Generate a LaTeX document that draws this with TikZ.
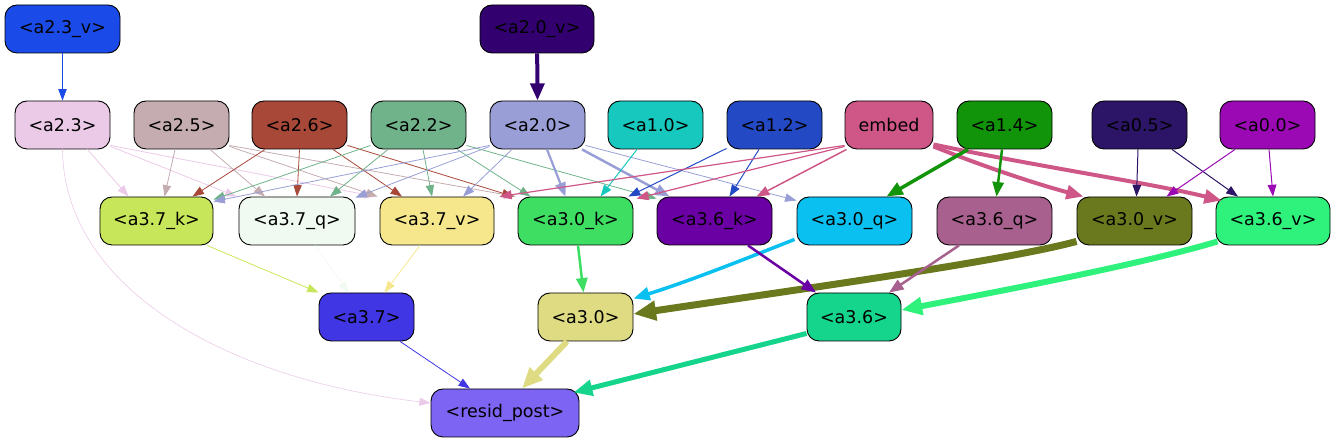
\documentclass[tikz,border=0pt]{standalone}
\usepackage{fontspec}
\setmainfont{DejaVu Sans}
\usetikzlibrary{arrows.meta,calc}
\definecolor{c23v}{HTML}{1A4BE8}
\definecolor{c20v}{HTML}{330070}
\definecolor{c23}{HTML}{EBCAE8}
\definecolor{c25}{HTML}{C4ACB0}
\definecolor{c26}{HTML}{A84838}
\definecolor{c22}{HTML}{70B38A}
\definecolor{c20}{HTML}{999FD6}
\definecolor{c10}{HTML}{17C8BE}
\definecolor{c12}{HTML}{2349C4}
\definecolor{cemb}{HTML}{CF5788}
\definecolor{c14}{HTML}{12940A}
\definecolor{c05}{HTML}{2C1466}
\definecolor{c00}{HTML}{9B09B5}
\definecolor{c37k}{HTML}{C8E65A}
\definecolor{c37q}{HTML}{F0FAF0}
\definecolor{c37v}{HTML}{F6E78D}
\definecolor{c30k}{HTML}{3EDE63}
\definecolor{c36k}{HTML}{6A00A3}
\definecolor{c30q}{HTML}{0AC0F0}
\definecolor{c36q}{HTML}{A8608E}
\definecolor{c30v}{HTML}{6A781E}
\definecolor{c36v}{HTML}{2EF27C}
\definecolor{c37}{HTML}{4136E3}
\definecolor{c30}{HTML}{DEDB82}
\definecolor{c36}{HTML}{15D48B}
\definecolor{cres}{HTML}{7D64F2}
\tikzset{
  box/.style={draw=black, line width=0.9pt, rounded corners=12pt, minimum height=48pt,
    inner sep=0pt, font=\fontsize{17.5}{20}\selectfont, text=black},
  edge/.style={-{Triangle[length=10pt 1.8, width=7pt 1.7]}}
}
\newcommand\edgeln[4]{\draw[edge, draw=#1, line width=#2pt] (#3) -- (#4);}
\begin{document}
\begin{tikzpicture}[x=1pt,y=1pt]
\useasboundingbox (0,0) rectangle (1336,443);
% row 0
\node[box, fill=c23v, minimum width=115pt] (a23v) at (62.5,414) {<a2.3\_v>};
\node[box, fill=c20v, minimum width=114pt] (a20v) at (537,414) {<a2.0\_v>};
% row 1
\node[box, fill=c23, minimum width=95pt] (a23) at (62.5,318) {<a2.3>};
\node[box, fill=c25, minimum width=95pt] (a25) at (181.5,318) {<a2.5>};
\node[box, fill=c26, minimum width=95pt] (a26) at (299.5,318) {<a2.6>};
\node[box, fill=c22, minimum width=95pt] (a22) at (418.5,318) {<a2.2>};
\node[box, fill=c20, minimum width=95pt] (a20) at (537.5,318) {<a2.0>};
\node[box, fill=c10, minimum width=95pt] (a10) at (655.5,318) {<a1.0>};
\node[box, fill=c12, minimum width=95pt] (a12) at (774.5,318) {<a1.2>};
\node[box, fill=cemb, minimum width=88pt] (emb) at (889,318) {embed};
\node[box, fill=c14, minimum width=95pt] (a14) at (1004.5,318) {<a1.4>};
\node[box, fill=c05, minimum width=95pt] (a05) at (1139.5,318) {<a0.5>};
\node[box, fill=c00, minimum width=95pt] (a00) at (1267.5,318) {<a0.0>};
% row 2
\node[box, fill=c37k, minimum width=113pt] (a37k) at (156.5,222) {<a3.7\_k>};
\node[box, fill=c37q, minimum width=116pt] (a37q) at (297,222) {<a3.7\_q>};
\node[box, fill=c37v, minimum width=114pt] (a37v) at (437,222) {<a3.7\_v>};
\node[box, fill=c30k, minimum width=115pt] (a30k) at (575.5,222) {<a3.0\_k>};
\node[box, fill=c36k, minimum width=115pt] (a36k) at (714.5,222) {<a3.6\_k>};
\node[box, fill=c30q, minimum width=115pt] (a30q) at (854.5,222) {<a3.0\_q>};
\node[box, fill=c36q, minimum width=115pt] (a36q) at (994.5,222) {<a3.6\_q>};
\node[box, fill=c30v, minimum width=115pt] (a30v) at (1134.5,222) {<a3.0\_v>};
\node[box, fill=c36v, minimum width=114pt] (a36v) at (1273,222) {<a3.6\_v>};
% row 3
\node[box, fill=c37, minimum width=95pt] (a37) at (366.5,126) {<a3.7>};
\node[box, fill=c30, minimum width=95pt] (a30) at (585.5,126) {<a3.0>};
\node[box, fill=c36, minimum width=94pt] (a36) at (854,126) {<a3.6>};
% row 4
\node[box, fill=cres, minimum width=148pt] (res) at (505,30) {<resid\_post>};

% edges row0 -> row1
\edgeln{c23v}{0.8}{a23v}{a23.north}
\edgeln{c20v}{4}{a20v}{a20.north}
% a2.3
\edgeln{c23}{0.8}{[xshift=25pt]a23.south}{[xshift=-28pt]a37k.north}
\edgeln{c23}{0.8}{[yshift=3pt]a23.south east}{[xshift=-2pt]a37q.north west}
\edgeln{c23}{0.8}{[yshift=4pt]a23.south east}{[xshift=-4pt]a37v.north west}
\draw[edge, draw=c23, line width=0.6pt] (a23.south) .. controls (64,153) and (230,63) .. ([yshift=10pt]res.west);
% a2.5
\edgeln{c25}{0.8}{[xshift=-6.5pt]a25.south}{[xshift=8pt]a37k.north}
\edgeln{c25}{0.8}{[xshift=28.5pt]a25.south}{[xshift=-32pt]a37q.north}
\edgeln{c25}{0.8}{[yshift=3pt]a25.south east}{[xshift=-2pt]a37v.north west}
\edgeln{c25}{0.8}{[yshift=4pt]a25.south east}{[xshift=-2pt]a30k.north west}
% a2.6
\edgeln{c26}{0.8}{[xshift=-34.5pt]a26.south}{[xshift=36pt]a37k.north}
\edgeln{c26}{0.8}{a26.south}{a37q.north}
\edgeln{c26}{0.8}{[xshift=33.5pt]a26.south}{[xshift=-35pt]a37v.north}
\edgeln{c26}{0.8}{[yshift=4pt]a26.south east}{[xshift=-4pt]a30k.north west}
% a2.2
\edgeln{c22}{0.8}{[yshift=4pt]a22.south west}{[yshift=-3pt]a37k.north east}
\edgeln{c22}{0.8}{[xshift=-30.5pt]a22.south}{[xshift=33pt]a37q.north}
\edgeln{c22}{0.8}{[xshift=4.5pt]a22.south}{[xshift=-5pt]a37v.north}
\edgeln{c22}{0.8}{[xshift=38.5pt]a22.south}{[xshift=-45pt]a30k.north}
\edgeln{c22}{0.8}{[yshift=4pt]a22.south east}{[yshift=-2pt]a36k.north west}
% a2.0
\edgeln{c20}{0.8}{[yshift=4pt]a20.south west}{[yshift=-5pt]a37k.north east}
\edgeln{c20}{0.8}{[yshift=3pt]a20.south west}{[yshift=-1pt]a37q.north east}
\edgeln{c20}{0.8}{[xshift=-25.5pt]a20.south}{[xshift=26pt]a37v.north}
\edgeln{c20}{2.2}{[xshift=9.5pt]a20.south}{[xshift=-10pt]a30k.north}
\edgeln{c20}{2.5}{[xshift=44.5pt]a20.south}{[xshift=-45pt]a36k.north}
\edgeln{c20}{0.8}{[yshift=4pt]a20.south east}{[yshift=-4pt]a30q.north west}
% a1.0, a1.2
\edgeln{c10}{1}{[xshift=-18.5pt]a10.south}{[xshift=25pt]a30k.north}
\edgeln{c12}{1}{[yshift=1pt]a12.south west}{[xshift=-5pt]a30k.north east}
\edgeln{c12}{1}{[xshift=-15.5pt]a12.south}{[xshift=15pt]a36k.north}
% embed
\edgeln{cemb}{1.2}{[yshift=4pt]emb.south west}{[xshift=5pt]a37v.north east}
\edgeln{cemb}{1.2}{[yshift=3pt]emb.south west}{[xshift=3pt,yshift=-2pt]a30k.north east}
\edgeln{cemb}{1.5}{[xshift=2pt]emb.south west}{[xshift=42pt]a36k.north}
\draw[edge, draw=cemb, line width=4pt] ([yshift=3pt]emb.south east) .. controls (990,274) and (1040,258) .. ([xshift=-51pt]a30v.north);
\draw[edge, draw=cemb, line width=4pt] ([yshift=5pt]emb.south east) .. controls (1040,276) and (1150,260) .. ([xshift=6pt,yshift=-4pt]a36v.north west);
% a1.4
\edgeln{c14}{3.5}{[xshift=-36.5pt]a14.south}{[xshift=32pt]a30q.north}
\edgeln{c14}{2.5}{[xshift=-2.5pt]a14.south}{[xshift=2pt]a36q.north}
% a0.5, a0.0
\edgeln{c05}{1}{[xshift=-1.5pt]a05.south}{[xshift=2pt]a30v.north}
\edgeln{c05}{1}{[xshift=32.5pt]a05.south}{[xshift=-35pt]a36v.north}
\edgeln{c00}{1}{[xshift=-32.5pt]a00.south}{[xshift=32pt]a30v.north}
\edgeln{c00}{1}{[xshift=1.5pt]a00.south}{a36v.north}
% row2 -> row3
\edgeln{c37k}{0.8}{[xshift=50.5pt]a37k.south}{a37.north west}
\edgeln{c37q}{0.6}{[xshift=18pt]a37q.south}{[xshift=-18pt]a37.north}
\edgeln{c37v}{0.8}{[xshift=-17pt]a37v.south}{[xshift=18pt]a37.north}
\edgeln{c30k}{2.5}{[xshift=2.5pt]a30k.south}{[xshift=-2pt]a30.north}
\draw[edge, draw=c30q, line width=3.5pt] ([xshift=-2pt,yshift=6pt]a30q.south west) .. controls (750,186) and (690,162) .. ([yshift=-6pt]a30.north east);
\draw[edge, draw=c30v, line width=7pt] ([yshift=4pt]a30v.south west) .. controls (1000,181) and (780,151) .. ([yshift=3pt]a30.east);
\edgeln{c36k}{2.5}{[xshift=33.5pt]a36k.south}{[xshift=-38pt]a36.north}
\edgeln{c36q}{2.5}{[xshift=-35.5pt]a36q.south}{[xshift=35pt]a36.north}
\draw[edge, draw=c36v, line width=6pt] ([xshift=2pt,yshift=4pt]a36v.south west) .. controls (1140,178) and (980,148) .. ([yshift=7pt]a36.east);
% row3 -> resid
\edgeln{c37}{0.8}{[xshift=33.5pt]a37.south}{[xshift=-35pt]res.north}
\edgeln{c30}{6}{[xshift=-18.5pt]a30.south}{[xshift=17pt]res.north}
\edgeln{c36}{5}{[yshift=8pt]a36.south west}{[xshift=-6pt,yshift=-4pt]res.north east}
\end{tikzpicture}
\end{document}
